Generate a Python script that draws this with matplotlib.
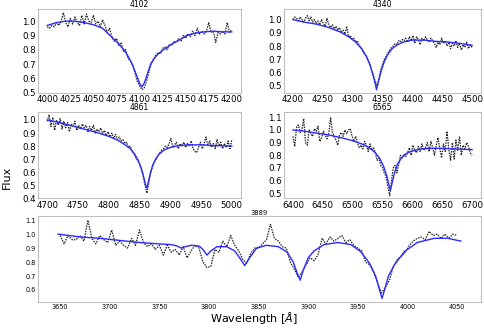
import numpy as np
import matplotlib
matplotlib.use("Agg")
import matplotlib.pyplot as plt
from matplotlib.ticker import MultipleLocator

# ---- observed spectra (flux on an even wavelength grid) ----
lam_4102 = (4000, 4200)
flux_4102 = [0.96, 0.95, 0.97, 0.96, 0.99, 0.97, 1.00, 1.06, 0.99, 0.96,
             1.02, 0.98, 1.03, 0.99, 0.97, 1.04, 0.98, 1.05, 1.00, 0.99,
             1.04, 0.98, 1.00, 0.96, 1.01, 0.97, 0.92, 0.95, 0.89, 0.86,
             0.88, 0.83, 0.85, 0.79, 0.80, 0.74, 0.72, 0.69, 0.64, 0.58,
             0.55, 0.52, 0.53, 0.58, 0.64, 0.70, 0.73, 0.76, 0.78, 0.77,
             0.81, 0.82, 0.80, 0.84, 0.83, 0.86, 0.85, 0.88, 0.86, 0.90,
             0.88, 0.91, 0.89, 0.93, 0.90, 0.95, 0.91, 0.93, 0.91, 0.93,
             0.99, 0.92, 0.93, 0.85, 0.92, 0.91, 0.93, 0.91, 0.99, 0.92, 0.94]

lam_4340 = (4200, 4500)
flux_4340 = [1.00, 1.02, 1.01, 0.99, 1.02, 1.00, 0.98, 1.01, 1.03, 0.99,
             1.02, 0.98, 1.00, 0.97, 0.99, 0.96, 1.00, 0.97, 0.95, 1.01,
             0.96, 0.94, 0.96, 0.93, 0.95, 0.92, 0.94, 0.90, 0.92, 0.89,
             0.95, 0.87, 0.88, 0.85, 0.86, 0.83, 0.84, 0.80, 0.79, 0.76,
             0.74, 0.72, 0.69, 0.66, 0.61, 0.57, 0.53, 0.50, 0.55, 0.62,
             0.66, 0.70, 0.72, 0.75, 0.77, 0.79, 0.80, 0.82, 0.81, 0.84,
             0.83, 0.85, 0.84, 0.86, 0.83, 0.87, 0.84, 0.88, 0.82, 0.87,
             0.85, 0.81, 0.86, 0.84, 0.87, 0.85, 0.83, 0.86, 0.84, 0.82,
             0.79, 0.83, 0.81, 0.86, 0.82, 0.84, 0.80, 0.83, 0.78, 0.82,
             0.80, 0.84, 0.79, 0.82, 0.77, 0.81, 0.79, 0.83, 0.78, 0.81, 0.79]

lam_4861 = (4700, 5000)
flux_4861 = [0.99, 1.04, 0.95, 1.02, 0.92, 1.00, 0.96, 1.01, 0.93, 0.99,
             0.94, 0.98, 0.91, 0.97, 0.95, 0.99, 0.92, 0.96, 0.93, 0.97,
             0.94, 0.96, 0.91, 0.95, 0.92, 0.96, 0.90, 0.93, 0.91, 0.94,
             0.89, 0.92, 0.88, 0.91, 0.87, 0.90, 0.86, 0.89, 0.85, 0.87,
             0.84, 0.85, 0.82, 0.83, 0.79, 0.80, 0.76, 0.74, 0.71, 0.69,
             0.66, 0.62, 0.57, 0.50, 0.44, 0.52, 0.60, 0.64, 0.68, 0.70,
             0.73, 0.75, 0.77, 0.78, 0.80, 0.79, 0.82, 0.86, 0.79, 0.81,
             0.83, 0.78, 0.82, 0.80, 0.83, 0.79, 0.82, 0.80, 0.84, 0.78,
             0.76, 0.75, 0.79, 0.83, 0.78, 0.82, 0.87, 0.80, 0.84, 0.79,
             0.82, 0.78, 0.85, 0.80, 0.83, 0.78, 0.82, 0.79, 0.84, 0.78, 0.85]

lam_6565 = (6400, 6700)
flux_6565 = [0.95, 0.87, 1.02, 1.04, 0.98, 1.00, 1.09, 0.90, 0.88, 1.00,
             0.97, 0.95, 1.01, 0.99, 1.03, 0.91, 0.94, 0.99, 0.96, 0.93,
             0.97, 1.10, 0.98, 0.95, 0.92, 0.88, 0.96, 0.98, 0.95, 1.00,
             0.97, 1.00, 1.01, 0.95, 0.91, 0.95, 0.90, 0.86, 0.88, 0.85,
             0.91, 0.88, 0.83, 0.89, 0.84, 0.86, 0.82, 0.76, 0.78, 0.72,
             0.70, 0.66, 0.63, 0.55, 0.48, 0.60, 0.70, 0.72, 0.66, 0.73,
             0.80, 0.78, 0.81, 0.79, 0.82, 0.86, 0.80, 0.88, 0.84, 0.82,
             0.87, 0.83, 0.89, 0.84, 0.86, 0.90, 0.83, 0.91, 0.86, 0.80,
             0.88, 0.94, 0.85, 0.78, 0.89, 0.83, 0.99, 0.85, 0.76, 0.90,
             0.77, 0.92, 0.84, 0.95, 0.80, 0.88, 0.85, 0.90, 0.87, 0.82, 0.80]

lam_3889 = (3650, 4050)
flux_3889 = [0.99, 0.93, 0.99, 0.96, 0.96, 0.99, 0.95, 1.10, 0.97, 0.93,
             0.99, 0.96, 0.94, 1.03, 0.92, 0.95, 0.92, 0.90, 0.97, 0.92,
             1.03, 0.94, 0.91, 0.93, 0.89, 0.92, 0.85, 0.92, 0.87, 0.89,
             0.85, 0.91, 0.83, 0.88, 0.92, 0.90, 0.80, 0.76, 0.77, 0.89,
             0.87, 0.95, 0.91, 0.99, 0.92, 0.88, 0.82, 0.79, 0.86, 0.90,
             0.90, 0.93, 0.96, 1.07, 0.97, 0.95, 0.91, 0.90, 0.80, 0.75,
             0.69, 0.73, 0.78, 0.83, 0.81, 0.85, 0.97, 0.93, 0.98, 0.95,
             0.97, 0.99, 0.94, 0.96, 0.92, 0.90, 0.88, 0.80, 0.78, 0.73,
             0.65, 0.58, 0.62, 0.67, 0.77, 0.82, 0.84, 0.87, 0.92, 0.95,
             0.97, 0.98, 0.96, 1.02, 0.99, 1.00, 0.97, 1.00, 0.97, 1.00, 0.99]

# ---- model fits ----
fit_x_4102 = [4000, 4010, 4020, 4030, 4040, 4050, 4060, 4068, 4076, 4083, 4088,
              4092, 4095, 4098, 4100, 4102.5, 4105, 4107, 4110, 4112, 4116,
              4120, 4126, 4135, 4145, 4151, 4160, 4170, 4180, 4190, 4200]
fit_y_4102 = [0.97, 0.99, 1.0, 1.0, 0.99, 0.975, 0.95, 0.9, 0.85, 0.8, 0.75,
              0.7, 0.65, 0.6, 0.565, 0.54, 0.565, 0.6, 0.66, 0.7, 0.74,
              0.77, 0.8, 0.84, 0.875, 0.9, 0.915, 0.925, 0.93, 0.925, 0.925]

fit_x_4340 = [4200, 4220, 4240, 4260, 4280, 4295, 4305, 4315, 4322, 4328, 4333,
              4337, 4340, 4343, 4347, 4352, 4358, 4366, 4375, 4385, 4400, 4420,
              4440, 4460, 4480, 4500]
fit_y_4340 = [1.0, 0.98, 0.965, 0.94, 0.905, 0.865, 0.83, 0.78, 0.73, 0.67, 0.6,
              0.53, 0.47, 0.53, 0.6, 0.67, 0.73, 0.78, 0.81, 0.83, 0.845, 0.845,
              0.835, 0.83, 0.82, 0.805]

fit_x_4861 = [4700, 4720, 4740, 4760, 4780, 4800, 4815, 4825, 4835, 4842, 4848,
              4853, 4857, 4860, 4862, 4864, 4867, 4871, 4876, 4882, 4890, 4900,
              4915, 4930, 4950, 4970, 5000]
fit_y_4861 = [1.0, 0.98, 0.955, 0.93, 0.905, 0.875, 0.845, 0.815, 0.78, 0.74, 0.69,
              0.63, 0.56, 0.5, 0.48, 0.52, 0.58, 0.65, 0.7, 0.74, 0.77, 0.79,
              0.805, 0.81, 0.81, 0.805, 0.8]

fit_x_6565 = [6400, 6420, 6440, 6460, 6480, 6500, 6515, 6528, 6538, 6546, 6552,
              6557, 6560, 6563, 6566, 6570, 6575, 6582, 6590, 6600, 6615, 6630,
              6650, 6670, 6700]
fit_y_6565 = [1.0, 0.99, 0.975, 0.96, 0.94, 0.915, 0.89, 0.86, 0.82, 0.77, 0.71,
              0.64, 0.58, 0.52, 0.58, 0.66, 0.73, 0.78, 0.815, 0.835, 0.85, 0.855,
              0.855, 0.85, 0.845]

fit_x_3889 = [3648, 3670, 3690, 3710, 3730, 3750, 3762, 3768, 3772, 3776, 3782,
              3790, 3794, 3798, 3802, 3808, 3818, 3826, 3831, 3836, 3841, 3848,
              3858, 3870, 3879, 3885, 3889, 3892, 3895, 3900, 3906, 3916, 3930,
              3943, 3953, 3962, 3968, 3972, 3974.5, 3977, 3981, 3987, 3997, 4010,
              4027, 4041, 4054]
fit_y_3889 = [1.0, 0.98, 0.97, 0.955, 0.94, 0.93, 0.925, 0.915, 0.9, 0.91, 0.92,
              0.915, 0.89, 0.85, 0.88, 0.91, 0.91, 0.88, 0.83, 0.775, 0.83, 0.9,
              0.92, 0.91, 0.87, 0.8, 0.72, 0.67, 0.74, 0.83, 0.88, 0.925, 0.94,
              0.925, 0.875, 0.79, 0.7, 0.6, 0.54, 0.6, 0.7, 0.78, 0.875, 0.94,
              0.97, 0.97, 0.95]

panels = [
    # title, grid, flux, fit x, fit y, rect, ylim, xstep, tick size, title size
    ("4102", lam_4102, flux_4102, fit_x_4102, fit_y_4102,
     [0.0784, 0.7173, 0.4186, 0.2553], (0.497, 1.085), 25, 6.2, 5.5),
    ("4340", lam_4340, flux_4340, fit_x_4340, fit_y_4340,
     [0.5856, 0.7173, 0.4062, 0.2553], (0.445, 1.08), 50, 6.2, 5.5),
    ("4861", lam_4861, flux_4861, fit_x_4861, fit_y_4861,
     [0.0784, 0.3967, 0.4186, 0.2629], (0.40, 1.061), 50, 6.2, 5.5),
    ("6565", lam_6565, flux_6565, fit_x_6565, fit_y_6565,
     [0.5856, 0.3967, 0.4062, 0.2629], (0.459, 1.142), 50, 6.2, 5.5),
    ("3889", lam_3889, flux_3889, fit_x_3889, fit_y_3889,
     [0.0784, 0.0821, 0.9134, 0.2614], (0.514, 1.13), 50, 4.7, 4.9),
]

fig = plt.figure(figsize=(4.85, 3.29), dpi=100)

for title, (l0, l1), fl, fx, fy, rect, ylim, xs, tfs, hfs in panels:
    ax = fig.add_axes(rect)
    lam = np.linspace(l0, l1, len(fl))
    ax.plot(lam, fl, color='#222222', lw=0.9, linestyle=(0, (1.2, 0.9)))
    ax.plot(fx, fy, '-', color='#2a2aff', lw=1.0)
    ax.set_ylim(*ylim)
    ax.xaxis.set_major_locator(MultipleLocator(xs))
    ax.yaxis.set_major_locator(MultipleLocator(0.1))
    ax.tick_params(labelsize=tfs, length=0, pad=1.5)
    for s in ax.spines.values():
        s.set_color('#c0c0c0')
        s.set_linewidth(0.8)
    ax.set_title(title, fontsize=hfs, pad=1.0)

fig.text(0.014, 0.46, "Flux", rotation=90, fontsize=8, va='center', ha='center')
fig.text(0.524, 0.033, r"Wavelength [$\AA$]", fontsize=8, va='center', ha='center')

fig.savefig("out.png", dpi=100)
